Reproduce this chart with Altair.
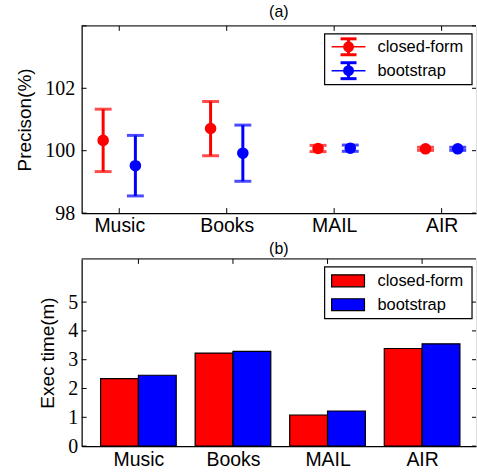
import altair as alt
import pandas as pd

# ---------------- data ----------------
categories = ["Music", "Books", "MAIL", "AIR"]
series = ["closed-form", "bootstrap"]
colors = ["#ff0000", "#0000ff"]

closed_mean = [100.33, 100.71, 100.07, 100.06]
closed_err = [1.00, 0.87, 0.10, 0.05]
boot_mean = [99.52, 99.92, 100.08, 100.06]
boot_err = [0.97, 0.90, 0.10, 0.05]

time_closed = [2.34, 3.23, 1.08, 3.39]
time_boot = [2.46, 3.29, 1.22, 3.55]

prec_ticks = [98, 100, 102, 104]
prec_labels = [98, 100, 102]
time_ticks = [0, 1, 2, 3, 4, 5]

# ---------------- layout ----------------
W, H = 396, 188
SANS = "Liberation Sans"
SERIF = "Liberation Serif"
label_expr = "[" + ",".join("'%s'" % c for c in categories) + "][datum.value]"
idx = list(range(len(categories)))

one = pd.DataFrame({"a": [0]})


def deco_rule(**enc):
    return alt.Chart(one).mark_rule(color="black", strokeWidth=1).encode(**enc)


def inward_ticks(xvals, yvals, xscale, yscale, xaxis, yaxis):
    layers = []
    dx = pd.DataFrame({"v": xvals})
    dy = pd.DataFrame({"v": yvals})
    layers.append(alt.Chart(dx).mark_rule(color="black", strokeWidth=1).encode(
        x=alt.X("v:Q", scale=xscale, axis=xaxis), y=alt.value(H - 5), y2=alt.value(H)))
    layers.append(alt.Chart(dx).mark_rule(color="black", strokeWidth=1).encode(
        x=alt.X("v:Q", scale=xscale, axis=xaxis), y=alt.value(0), y2=alt.value(5)))
    layers.append(alt.Chart(dy).mark_rule(color="black", strokeWidth=1).encode(
        y=alt.Y("v:Q", scale=yscale, axis=yaxis), x=alt.value(0), x2=alt.value(5)))
    layers.append(alt.Chart(dy).mark_rule(color="black", strokeWidth=1).encode(
        y=alt.Y("v:Q", scale=yscale, axis=yaxis), x=alt.value(W - 4), x2=alt.value(W)))
    return layers


# ---------------- panel (a) ----------------
xs_a = alt.Scale(domain=[-0.35, 3.32], nice=False, zero=False)
ys_a = alt.Scale(domain=[98, 104], nice=False, zero=False)

rows = []
for i, c in enumerate(categories):
    rows.append({"cat": c, "series": series[0], "pos": i - 0.15,
                 "m": closed_mean[i], "lo": closed_mean[i] - closed_err[i], "hi": closed_mean[i] + closed_err[i]})
    rows.append({"cat": c, "series": series[1], "pos": i + 0.15,
                 "m": boot_mean[i], "lo": boot_mean[i] - boot_err[i], "hi": boot_mean[i] + boot_err[i]})
dfa = pd.DataFrame(rows)

cscale = alt.Scale(domain=series, range=colors)

xaxis_a = alt.Axis(values=idx, labelExpr=label_expr, title=None, grid=False, ticks=False, tickSize=0,
                   labelFont=SANS, labelFontSize=19.5, labelColor="black", labelPadding=3,
                   labelOverlap=False, domainColor="black", domainWidth=1.2, zindex=1)
yaxis_a = alt.Axis(values=prec_labels, format="d", title="Precison(%)", grid=False, ticks=False, tickSize=0,
                   labelFont=SERIF, labelFontSize=20, labelColor="black", labelPadding=7,
                   labelOverlap=False, labelFlush=False,
                   titleFont=SANS, titleFontSize=19, titleFontWeight="normal", titleColor="black",
                   titlePadding=10, domainColor="black", domainWidth=1.2, zindex=1)

base_a = alt.Chart(dfa)
err_a = base_a.mark_rule(strokeWidth=3).encode(
    x=alt.X("pos:Q", scale=xs_a, axis=xaxis_a),
    y=alt.Y("lo:Q", scale=ys_a, axis=yaxis_a),
    y2="hi:Q",
    color=alt.Color("series:N", scale=cscale, legend=None),
)
cap_lo = base_a.mark_tick(orient="horizontal", size=17, thickness=3).encode(
    x=alt.X("pos:Q", scale=xs_a, axis=xaxis_a), y=alt.Y("lo:Q", scale=ys_a, axis=yaxis_a),
    color=alt.Color("series:N", scale=cscale, legend=None))
cap_hi = base_a.mark_tick(orient="horizontal", size=17, thickness=3).encode(
    x=alt.X("pos:Q", scale=xs_a, axis=xaxis_a), y=alt.Y("hi:Q", scale=ys_a, axis=yaxis_a),
    color=alt.Color("series:N", scale=cscale, legend=None))
pts_a = base_a.mark_point(filled=True, size=135, opacity=1, shape="circle").encode(
    x=alt.X("pos:Q", scale=xs_a, axis=xaxis_a), y=alt.Y("m:Q", scale=ys_a, axis=yaxis_a),
    color=alt.Color("series:N", scale=cscale, legend=None))

ticks_a = inward_ticks(idx, prec_ticks, xs_a, ys_a, xaxis_a, yaxis_a)
top_spine_a = deco_rule(x=alt.value(0), x2=alt.value(W), y=alt.value(0))

# legend (a)
LX0, LX1, LY0, LY1 = 244, 392, 8, 59
leg_a = [alt.Chart(one).mark_rect(fill="white", stroke="black", strokeWidth=1.2).encode(
    x=alt.value(LX0), x2=alt.value(LX1), y=alt.value(LY0), y2=alt.value(LY1))]
for k, (s, col) in enumerate(zip(series, colors)):
    r = 21 + 24 * k
    cx = 268
    leg_a.append(alt.Chart(one).mark_rule(color=col, strokeWidth=1.5).encode(
        x=alt.value(cx - 17), x2=alt.value(cx + 17), y=alt.value(r)))
    leg_a.append(alt.Chart(one).mark_rule(color=col, strokeWidth=3).encode(
        x=alt.value(cx), y=alt.value(r - 8), y2=alt.value(r + 8)))
    for dy in (-8, 8):
        leg_a.append(alt.Chart(one).mark_rule(color=col, strokeWidth=3).encode(
            x=alt.value(cx - 8), x2=alt.value(cx + 8), y=alt.value(r + dy)))
    leg_a.append(alt.Chart(one).mark_point(filled=True, size=120, opacity=1, color=col, shape="circle").encode(
        x=alt.value(cx), y=alt.value(r)))
    leg_a.append(alt.Chart(pd.DataFrame({"t": [s]})).mark_text(
        align="left", baseline="middle", font=SANS, fontSize=16.5, color="black").encode(
        x=alt.value(297), y=alt.value(r), text="t:N"))

panel_a = alt.layer(err_a, cap_lo, cap_hi, pts_a, *ticks_a, top_spine_a, *leg_a).properties(
    width=W, height=H,
    title=alt.TitleParams("(a)", font=SANS, fontSize=16, fontWeight="normal", color="black",
                          anchor="middle", offset=5))

# ---------------- panel (b) ----------------
xs_b = alt.Scale(domain=[-0.6, 3.57], nice=False, zero=False)
ys_b = alt.Scale(domain=[0, 6.5], nice=False, zero=True)

rows_b = []
for i, c in enumerate(categories):
    rows_b.append({"cat": c, "series": series[0], "x0": i - 0.4, "x1": i, "v": time_closed[i]})
    rows_b.append({"cat": c, "series": series[1], "x0": i, "x1": i + 0.4, "v": time_boot[i]})
dfb = pd.DataFrame(rows_b)

xaxis_b = alt.Axis(values=idx, labelExpr=label_expr, title=None, grid=False, ticks=False, tickSize=0,
                   labelFont=SANS, labelFontSize=19.5, labelColor="black", labelPadding=4,
                   labelOverlap=False, domainColor="black", domainWidth=1.2, zindex=1)
yaxis_b = alt.Axis(values=time_ticks, format="d", title="Exec time(m)", grid=False, ticks=False, tickSize=0,
                   labelFont=SERIF, labelFontSize=20, labelColor="black", labelPadding=4,
                   labelOverlap=False, labelFlush=False,
                   titleFont=SANS, titleFontSize=19, titleFontWeight="normal", titleColor="black",
                   titlePadding=10, domainColor="black", domainWidth=1.2, zindex=1)

bars = alt.Chart(dfb).mark_rect(stroke="black", strokeWidth=1.2).encode(
    x=alt.X("x0:Q", scale=xs_b, axis=xaxis_b),
    x2="x1:Q",
    y=alt.Y("v:Q", scale=ys_b, axis=yaxis_b),
    y2=alt.datum(0),
    color=alt.Color("series:N", scale=cscale, legend=None),
)
ticks_b = inward_ticks(idx, time_ticks, xs_b, ys_b, xaxis_b, yaxis_b)
top_spine_b = deco_rule(x=alt.value(0), x2=alt.value(W), y=alt.value(0))

leg_b = [alt.Chart(one).mark_rect(fill="white", stroke="black", strokeWidth=1.2).encode(
    x=alt.value(LX0), x2=alt.value(LX1), y=alt.value(LY0), y2=alt.value(LY1 + 1))]
for k, (s, col) in enumerate(zip(series, colors)):
    r = 22 + 24 * k
    leg_b.append(alt.Chart(one).mark_rect(fill=col, stroke="black", strokeWidth=1.2).encode(
        x=alt.value(251), x2=alt.value(284), y=alt.value(r - 6), y2=alt.value(r + 6)))
    leg_b.append(alt.Chart(pd.DataFrame({"t": [s]})).mark_text(
        align="left", baseline="middle", font=SANS, fontSize=16.5, color="black").encode(
        x=alt.value(297), y=alt.value(r), text="t:N"))

panel_b = alt.layer(bars, *ticks_b, top_spine_b, *leg_b).properties(
    width=W, height=H,
    title=alt.TitleParams("(b)", font=SANS, fontSize=16, fontWeight="normal", color="black",
                          anchor="middle", offset=1))

chart = alt.vconcat(panel_a, panel_b, spacing=6).properties(
    padding={"left": 15, "top": 3, "right": 0, "bottom": 0}
).configure_view(strokeWidth=0).configure_axis(labelOverlap=False).configure(background="white")

chart.save("out.html", embed_options={"renderer": "svg", "actions": False})
